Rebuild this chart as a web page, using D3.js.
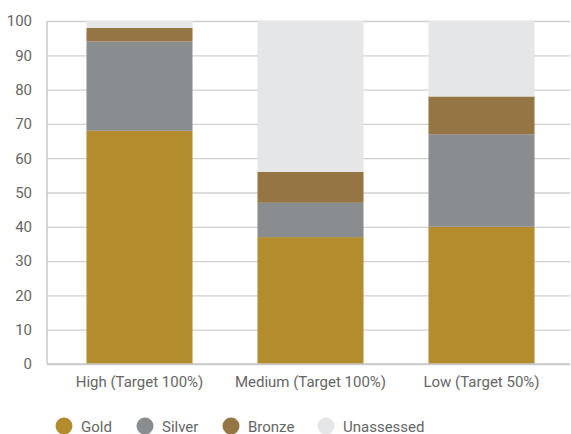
<!DOCTYPE html>
<html>
<head>
<meta charset="utf-8">
<script src="https://cdn.jsdelivr.net/npm/d3@7"></script>
<style>
  body { margin: 0; background: #fff; }
  text { font-family: Roboto, "Noto Sans", sans-serif; fill: #666; }
</style>
</head>
<body>
<svg id="chart" width="571" height="434"></svg>
<script>
// data
var categories = ['High (Target 100%)', 'Medium (Target 100%)', 'Low (Target 50%)'];
var series = ['Gold', 'Silver', 'Bronze', 'Unassessed'];
var gold = [68, 37, 40];
var silver = [26, 10, 27];
var bronze = [4, 9, 11];
var unassessed = [2, 44, 22];
var yTicks = [0, 10, 20, 30, 40, 50, 60, 70, 80, 90, 100];

var colors = ['#b38c2e', '#8a8d8f', '#967545', '#e5e6e8'];

var svg = d3.select('#chart');

var plot = {l: 47, r: 570, t: 21, b: 364};

var xScale = d3.scaleBand()
    .domain(categories)
    .range([54, 567])
    .paddingInner(0.38)
    .paddingOuter(0.19);

var yScale = d3.scaleLinear().domain([0, 100]).range([plot.b, plot.t]);

var table = categories.map(function(c, i) {
    return {cat: c, Gold: gold[i], Silver: silver[i], Bronze: bronze[i], Unassessed: unassessed[i]};
});
var stacked = d3.stack().keys(series)(table);

// gridlines
var yAxis = d3.axisLeft(yScale)
    .tickValues(yTicks)
    .tickSize(-(plot.r - plot.l))
    .tickPadding(15)
    .tickFormat(d3.format('d'));

var yG = svg.append('g')
    .attr('transform', 'translate(' + plot.l + ',0)')
    .call(yAxis);
yG.select('.domain').remove();
yG.selectAll('.tick line').attr('stroke', '#d0d0d0').attr('stroke-width', 1.3);
yG.selectAll('.tick text').style('font-size', '15px').attr('fill', '#666');

// bars
svg.append('g').selectAll('g')
    .data(stacked)
    .join('g')
    .attr('fill', function(d, i) { return colors[i]; })
    .selectAll('rect')
    .data(function(d) { return d; })
    .join('rect')
    .attr('x', function(d) { return xScale(d.data.cat); })
    .attr('width', xScale.bandwidth())
    .attr('y', function(d) { return yScale(d[1]); })
    .attr('height', function(d) { return yScale(d[0]) - yScale(d[1]); });

// axis lines
svg.append('line')
    .attr('x1', plot.l).attr('x2', plot.l)
    .attr('y1', plot.t).attr('y2', plot.b)
    .attr('stroke', '#c8c8c8').attr('stroke-width', 1.5);
svg.append('line')
    .attr('x1', plot.l).attr('x2', plot.r)
    .attr('y1', plot.b).attr('y2', plot.b)
    .attr('stroke', '#c8c8c8').attr('stroke-width', 1.5);

// x labels
svg.append('g').selectAll('text')
    .data(categories)
    .join('text')
    .attr('x', function(d) { return xScale(d) + xScale.bandwidth() / 2; })
    .attr('y', 387)
    .attr('text-anchor', 'middle')
    .style('font-size', '15px')
    .text(function(d) { return d; });

// legend
var legendX = [64, 145, 231, 326];
var legend = svg.append('g').selectAll('g')
    .data(series)
    .join('g')
    .attr('transform', function(d, i) { return 'translate(' + legendX[i] + ',426)'; });
legend.append('circle')
    .attr('r', 8.5)
    .attr('fill', function(d, i) { return colors[i]; });
legend.append('text')
    .attr('x', 17)
    .attr('y', 5.5)
    .style('font-size', '15px')
    .text(function(d) { return d; });
</script>
</body>
</html>
